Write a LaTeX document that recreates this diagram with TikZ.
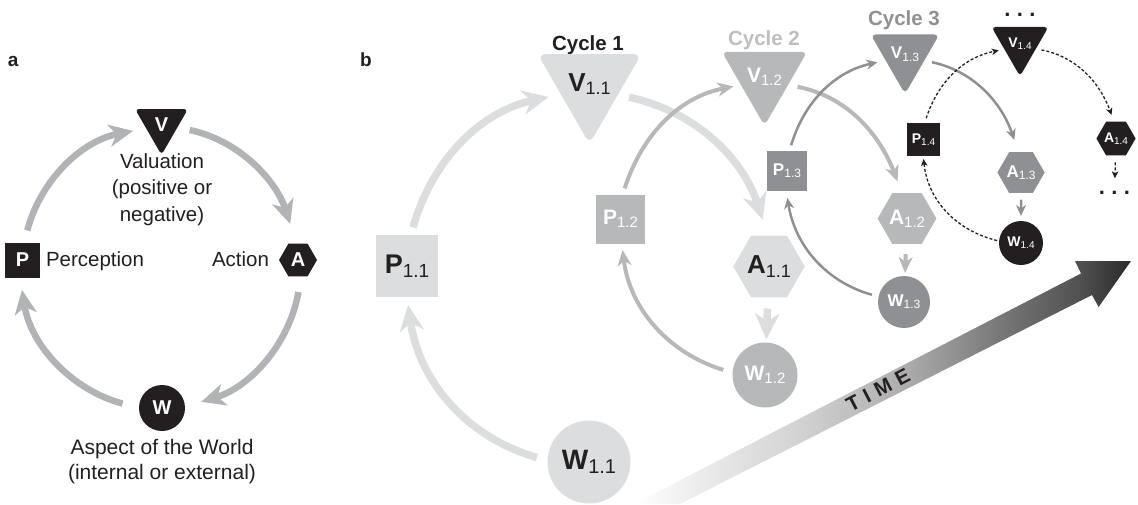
\documentclass[tikz,border=0pt]{standalone}
\usepackage{fontspec}
\setmainfont{Liberation Sans}
\newfontfamily\spacedfont[LetterSpace=32]{Liberation Sans}
\usetikzlibrary{shapes.geometric,arrows.meta}

\definecolor{ink}{HTML}{231F20}
\definecolor{cyc1}{HTML}{DCDDDE}
\definecolor{cyc2}{HTML}{B6B8BA}
\definecolor{cyc3}{HTML}{8E9093}
\definecolor{loopgray}{HTML}{B1B3B6}
\definecolor{lab2}{HTML}{BCBEC0}
\definecolor{lab3}{HTML}{8E9093}
\definecolor{tg1}{gray}{0.925}
\definecolor{tg2}{gray}{0.824}
\definecolor{tg3}{gray}{0.686}
\definecolor{tg4}{gray}{0.47}
\definecolor{tg5}{gray}{0.314}
\definecolor{tg6}{gray}{0.165}
% time axis: white tail fading into a dark head
\pgfdeclarehorizontalshading{timeshade}{100bp}{color(0bp)=(white); color(25bp)=(white);
  color(31.6bp)=(tg1); color(41.7bp)=(tg2); color(51.8bp)=(tg3); color(61.8bp)=(tg4);
  color(69.9bp)=(tg5); color(75bp)=(tg6); color(100bp)=(tg6)}

% bold stage letter with a lowered index
\newcommand\lbl[4]{{\fontsize{#3}{#3}\selectfont\bfseries #1}{\fontsize{#4}{#4}\selectfont\raisebox{-0.2em}{#2}}}

\tikzset{
  every node/.style={inner sep=0pt, outer sep=0pt},
  sqn/.style={rectangle, minimum size=#1},
  trin/.style={regular polygon, regular polygon sides=3, shape border rotate=180, minimum size=#1},
  hexn/.style={regular polygon, regular polygon sides=6, minimum size=#1},
  cirn/.style={circle, minimum size=#1},
  stage0/.style={fill=ink, text=white, font=\fontsize{20}{20}\selectfont\bfseries},
  stage1/.style={fill=cyc1, text=ink},
  stage2/.style={fill=cyc2, text=white},
  stage3/.style={fill=cyc3, text=white},
  stage4/.style={fill=ink, text=white},
  arrA/.style={draw=loopgray, line width=6.5pt, -{Stealth[length=24pt,width=22pt,inset=7pt]}},
  arr1/.style={draw=cyc1, line width=7.5pt, -{Stealth[length=26pt,width=24pt,inset=8pt]}},
  arr2/.style={draw=cyc2, line width=4pt, -{Stealth[length=16pt,width=14pt,inset=5pt]}},
  arr3/.style={draw=cyc3, line width=2.5pt, -{Stealth[length=11pt,width=10pt,inset=3.5pt]}},
  arr4/.style={draw=ink, line width=1.3pt, dash pattern=on 3pt off 2pt, -{Stealth[length=7pt,width=6.5pt,inset=2pt]}},
  txt/.style={text=ink, font=\fontsize{20.5}{26.5}\selectfont},
}

\begin{document}
\begin{tikzpicture}[x=1pt,y=-1pt]
\path[use as bounding box] (0,0) rectangle (1138,504);
\clip (0,0) rectangle (1138,504);

% ---------- panel a ----------
\node[anchor=base west, text=ink, font=\fontsize{19}{19}\selectfont\bfseries] (laba) at (8,66.7) {a};
\node[sqn=35pt, stage0] (P) at (22.5,260) {P};
\node[trin=61.2pt, rounded corners=4pt, stage0] (V) at (161.5,124.3) {V};
\node[hexn=38pt, stage0] (A) at (298,260) {A};
\node[cirn=46pt, stage0] (W) at (162,408) {W};

\node[txt, align=center] (valtext) at (162,189.6) {Valuation\\(positive or\\negative)};
\node[txt, anchor=base west] (pertext) at (46,266) {Perception};
\node[txt, anchor=base east] (acttext) at (269,266) {Action};
\node[txt, align=center, font=\fontsize{21}{25.5}\selectfont] (wortext) at (162,461.8) {Aspect of the World\\(internal or external)};

\draw[arrA, shorten <=12.5pt, shorten >=13.4pt] (P.85) to[out=75,in=191] (V.195);
\draw[arrA, shorten <=12.6pt, shorten >=20.6pt] (V.-11) to[out=-12,in=108] (A.95);
\draw[arrA, shorten <=15.8pt, shorten >=17pt] (A.-79) to[out=-100,in=17] (W.3);
\draw[arrA, shorten <=17pt, shorten >=12.6pt] (W.180) to[out=165,in=279] (P.-98);

% ---------- panel b ----------
\node[anchor=base west, text=ink, font=\fontsize{19}{19}\selectfont\bfseries] (labb) at (360,66.7) {b};

% time axis
\shade[shading=timeshade] (634,504) -- (1081,273.5) -- (1075,261) -- (1131,261)
  -- (1098.6,307) -- (1092,295) -- (680,504) -- cycle;
\node[rotate=27.5, text=ink, font=\spacedfont\fontsize{20.5}{20.5}\selectfont\bfseries] (time) at (878,390) {TIME};

% cycle titles and continuation marks
\node[anchor=base, text=ink, font=\fontsize{20.5}{20.5}\selectfont\bfseries] (cyc1) at (588,50) {Cycle 1};
\node[anchor=base, text=lab2, font=\fontsize{20.5}{20.5}\selectfont\bfseries] (cyc2) at (764,45) {Cycle 2};
\node[anchor=base, text=lab3, font=\fontsize{20.5}{20.5}\selectfont\bfseries] (cyc3) at (904,25) {Cycle 3};
\node[text=ink, font=\fontsize{22}{22}\selectfont\bfseries] (dotsT) at (1020,15) {.\kern6.4pt.\kern6.4pt.};
\node[text=ink, font=\fontsize{22}{22}\selectfont\bfseries] (dotsB) at (1114.5,193) {.\kern6.4pt.\kern6.4pt.};

% cycle 1
\node[sqn=62pt, stage1] (P11) at (407,266) {\lbl{P}{1.1}{27}{19}};
\node[trin=108pt, rounded corners=8pt, stage1] (V11) at (589.5,84) {\lbl{V}{1.1}{26}{18}};
\node[hexn=70pt, stage1] (A11) at (769,266.5) {\lbl{A}{1.1}{26}{18}};
\node[cirn=83pt, stage1] (W11) at (589,462) {\lbl{W}{1.1}{28}{20}};
% cycle 2
\node[sqn=49pt, stage2] (P12) at (620.5,219) {\lbl{P}{1.2}{21}{15}};
\node[trin=85.4pt, rounded corners=6pt, stage2] (V12) at (764.5,76.4) {\lbl{V}{1.2}{21}{15}};
\node[hexn=56pt, stage2] (A12) at (907,218.5) {\lbl{A}{1.2}{21}{15}};
\node[cirn=65pt, stage2] (W12) at (765,375) {\lbl{W}{1.2}{21}{15}};
% cycle 3
\node[sqn=40pt, stage3] (P13) at (787,171) {\lbl{P}{1.3}{17}{12}};
\node[trin=69.3pt, rounded corners=5pt, stage3] (V13) at (905,54.3) {\lbl{V}{1.3}{17}{12}};
\node[hexn=46pt, stage3] (A13) at (1021,172.5) {\lbl{A}{1.3}{17}{12}};
\node[cirn=52pt, stage3] (W13) at (904,302) {\lbl{W}{1.3}{17}{12}};
% cycle 4
\node[sqn=33pt, stage4] (P14) at (923.5,139.5) {\lbl{P}{1.4}{14}{10}};
\node[trin=57.7pt, rounded corners=4pt, stage4] (V14) at (1020,43.4) {\lbl{V}{1.4}{14}{10}};
\node[hexn=38pt, stage4] (A14) at (1116,138.5) {\lbl{A}{1.4}{14}{10}};
\node[cirn=44pt, stage4] (W14) at (1021,243) {\lbl{W}{1.4}{14}{10}};

% cycle 1 links
\draw[arr1, shorten <=8pt, shorten >=12.5pt] (P11.83) to[out=74,in=192] (V11.200);
\draw[arr1, shorten <=11.5pt, shorten >=16.7pt] (V11.-21) to[out=-12,in=108] (A11.92);
\draw[arr1, shorten <=11pt, shorten >=3pt] (A11) -- (W12);
\draw[arr1, shorten <=11pt, shorten >=8pt] (W11.178) to[out=164,in=278] (P11.-90);
% cycle 2 links
\draw[arr2, shorten <=6.5pt, shorten >=7.6pt] (P12.85) to[out=72,in=191] (V12.200);
\draw[arr2, shorten <=9.8pt, shorten >=12.5pt] (V12.-20) to[out=-11,in=111] (A12.101);
\draw[arr2, shorten <=10pt, shorten >=3pt] (A12) -- (W13);
\draw[arr2, shorten <=9.6pt, shorten >=6.5pt] (W12.176) to[out=163,in=277] (P12.-87);
% cycle 3 links
\draw[arr3, shorten <=6pt, shorten >=8.5pt] (P13.83) to[out=73.5,in=192] (V13.198);
\draw[arr3, shorten <=7.8pt, shorten >=12.8pt] (V13.-18) to[out=-12,in=109] (A13.97);
\draw[arr3, shorten <=6.6pt, shorten >=5pt] (A13) -- (W14);
\draw[arr3, shorten <=6.8pt, shorten >=7pt] (W13.168) to[out=164.5,in=279] (P13.-92);
% cycle 4 links (still to come)
\draw[arr4, shorten <=5pt, shorten >=5.8pt] (P14.86) to[out=72,in=191] (V14.201);
\draw[arr4, shorten <=5.8pt, shorten >=7pt] (V14.-19) to[out=-11,in=110] (A14.97);
\draw[arr4, shorten <=7pt, shorten >=13pt] (A14) -- (dotsB);
\draw[arr4, shorten <=2pt, shorten >=3pt] (W14.175) to[out=166,in=276] (P14.-91.5);
\end{tikzpicture}
\end{document}
